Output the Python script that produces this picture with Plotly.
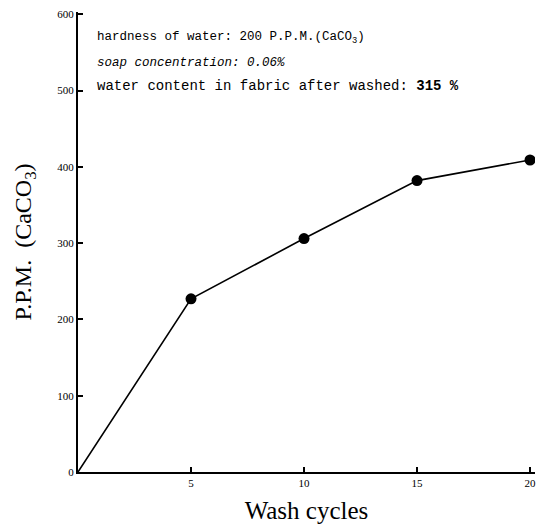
import plotly.graph_objects as go

wash_cycles = [0, 5, 10, 15, 20]
ppm = [0, 227, 306, 382, 409]
marker_cycles = [5, 10, 15, 20]
marker_ppm = [227, 306, 382, 409]
x_ticks = [5, 10, 15, 20]
y_ticks = [0, 100, 200, 300, 400, 500, 600]

fig = go.Figure()
fig.add_trace(go.Scatter(x=wash_cycles, y=ppm, mode="lines",
                         line=dict(color="black", width=1.6), showlegend=False))
fig.add_trace(go.Scatter(x=marker_cycles, y=marker_ppm, mode="markers",
                         marker=dict(color="black", size=11), showlegend=False))

serif = "Liberation Serif, Times New Roman, serif"
mono = "Liberation Mono, Courier New, monospace"

L, R, T, B = 78, 9, 12, 60
W, H = 544, 532

fig.update_layout(
    width=W, height=H,
    margin=dict(l=L, r=R, t=T, b=B),
    paper_bgcolor="white", plot_bgcolor="white",
    font=dict(family=serif, color="black"),
    xaxis=dict(range=[0, 20.22], tickvals=x_ticks, ticks="inside", ticklen=5,
               tickwidth=1.5, tickcolor="black",
               showline=True, linecolor="black", linewidth=2, showgrid=False,
               zeroline=False, tickfont=dict(size=11, family=serif),
               title=dict(text="Wash cycles", font=dict(size=25, family=serif), standoff=13)),
    yaxis=dict(range=[0, 603], tickvals=y_ticks, ticks="inside", ticklen=5,
               tickwidth=1.5, tickcolor="black",
               showline=True, linecolor="black", linewidth=2, showgrid=False,
               zeroline=False, tickfont=dict(size=11, family=serif),
               title=dict(text="P.P.M.  (CaCO<sub>3</sub>)", font=dict(size=24, family=serif), standoff=19)),
)

lines = [
    ("hardness of water: 200 P.P.M.(CaCO<sub>3</sub>)", 38, 12.5),
    ("<i>soap concentration: 0.06%</i>", 63, 12.5),
    ("water content in fabric after washed: <b>315 %</b>", 86, 14),
]
for text, ypx, fs in lines:
    fig.add_annotation(x=(95 - L) / (W - L - R), y=1 - (ypx - T) / (H - T - B),
                       xref="paper", yref="paper",
                       text=text, showarrow=False, xanchor="left", yanchor="middle",
                       font=dict(family=mono, size=fs, color="black"))

fig.write_html("out.html")
